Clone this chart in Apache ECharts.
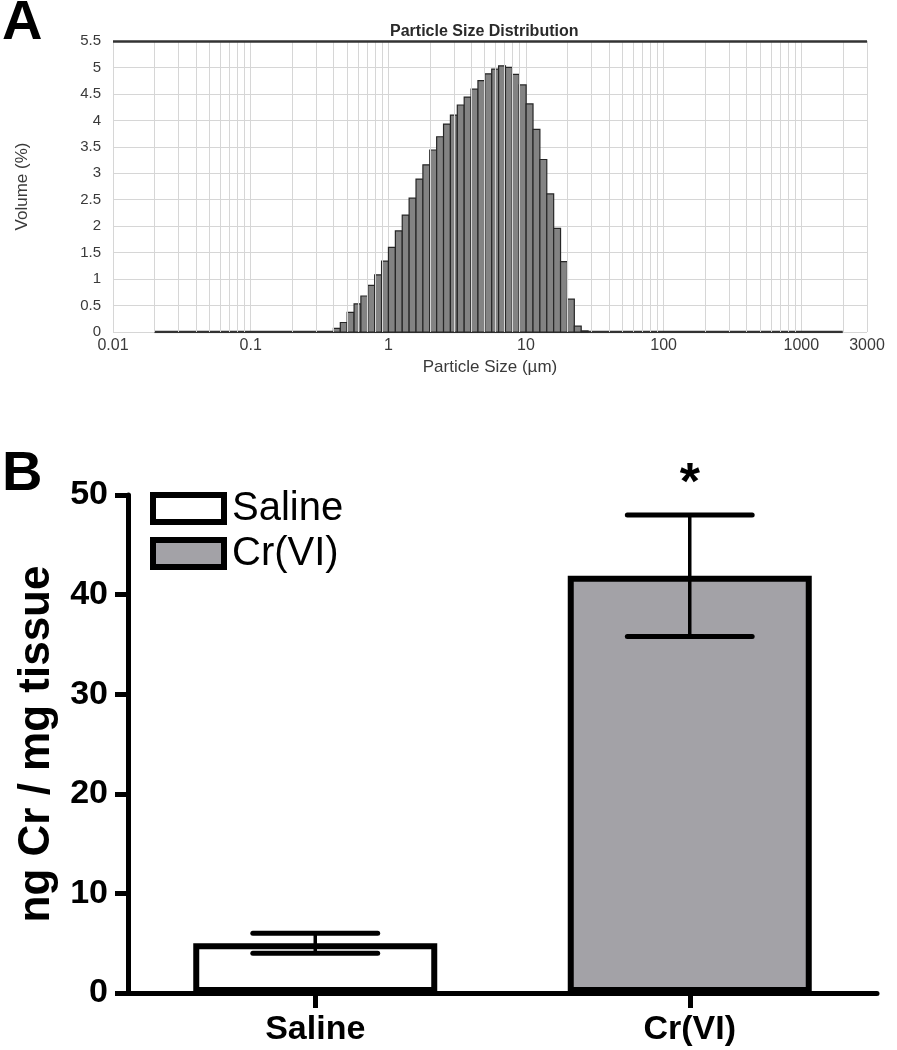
<!DOCTYPE html>
<html><head><meta charset="utf-8">
<script src="https://cdn.jsdelivr.net/npm/echarts@6/dist/echarts.min.js"></script>
<style>html,body{margin:0;padding:0;background:#fff}#c{width:897px;height:1050px}</style>
</head><body><div id="c"></div>
<script>
// ---------- Panel A data: particle size distribution (Mastersizer size classes, µm) ----------
const sizeEdges = [0.399, 0.448, 0.502, 0.564, 0.632, 0.710, 0.796, 0.893, 1.002, 1.125,
  1.262, 1.416, 1.589, 1.783, 2.000, 2.244, 2.518, 2.825, 3.170, 3.557,
  3.991, 4.477, 5.024, 5.637, 6.325, 7.096, 7.962, 8.934, 10.024, 11.247,
  12.619, 14.159, 15.887, 17.825, 20.000, 22.440, 25.179, 28.251];
const volumePct = [0.07, 0.18, 0.37, 0.53, 0.68, 0.88, 1.08, 1.34, 1.60, 1.91,
  2.21, 2.53, 2.89, 3.16, 3.44, 3.69, 3.93, 4.10, 4.29, 4.44,
  4.59, 4.75, 4.88, 4.97, 5.03, 5.00, 4.87, 4.67, 4.31, 3.83,
  3.26, 2.61, 1.96, 1.33, 0.62, 0.11, 0.02];
const measuredRange = [0.02, 2000];
const sizeAxisRange = [0.01, 3000];
const volumeAxisMax = 5.5;

// ---------- Panel B data ----------
const groups = ['Saline', 'Cr(VI)'];
const means = [5.0, 41.9];
const sems = [1.0, 6.1];
const significance = ['', '*'];

const FONT = '"Liberation Sans", Arial, Helvetica, sans-serif';
const GRID_GREY = '#d6d6d6';

const histData = volumePct.map((v, i) => [sizeEdges[i], sizeEdges[i + 1], v]);
const minorGrid = [];
[0.01, 0.1, 1, 10, 100, 1000].forEach(d => {
  for (let m = 2; m <= 9; m++) {
    const v = parseFloat((d * m).toPrecision(3));
    if (v < sizeAxisRange[1]) minorGrid.push({ xAxis: v });
  }
});
const errData = groups.map((g, i) => [i, means[i] - sems[i], means[i] + sems[i]]);
const starData = groups.map((g, i) => [i, means[i] + sems[i], significance[i]]).filter(d => d[2]);

const chart = echarts.init(document.getElementById('c'));
chart.setOption({
  backgroundColor: '#fff',
  animation: false,
  title: [
    { text: 'A', left: 2, top: -4, padding: 0, textStyle: { fontFamily: FONT, fontSize: 56, fontWeight: 'bold', color: '#000' } },
    { text: 'B', left: 2, top: 447, padding: 0, textStyle: { fontFamily: FONT, fontSize: 56, fontWeight: 'bold', color: '#000' } },
    { text: 'Particle Size Distribution', left: 390, top: 24, padding: 0, textStyle: { fontFamily: FONT, fontSize: 16, fontWeight: 'bold', color: '#2a2a2a' } }
  ],
  legend: {
    data: groups, orient: 'vertical', left: 150, top: 486, itemWidth: 71, itemHeight: 27, itemGap: 0,
    icon: 'rect', padding: 0,
    itemStyle: { borderWidth: 6, borderColor: '#000' },
    textStyle: { fontFamily: FONT, fontSize: 40, color: '#000', lineHeight: 45, padding: [0, 0, 0, 3] }
  },
  grid: [
    { left: 113, top: 41, width: 754, height: 291 },
    { left: 128, top: 495, width: 749, height: 498 }
  ],
  xAxis: [
    {
      gridIndex: 0, type: 'log', logBase: 10, min: sizeAxisRange[0], max: sizeAxisRange[1],
      axisLine: { show: false }, axisTick: { show: false },
      axisLabel: { fontFamily: FONT, fontSize: 16, color: '#3a3a3a', margin: 6,
        formatter: v => String(parseFloat(Number(v).toPrecision(4))) },
      splitLine: { show: true, lineStyle: { color: GRID_GREY, width: 1 } },
      name: 'Particle Size (µm)', nameLocation: 'middle', nameGap: 27,
      nameTextStyle: { fontFamily: FONT, fontSize: 17, color: '#3a3a3a' }
    },
    {
      gridIndex: 1, type: 'category', data: groups,
      axisLine: { show: true, lineStyle: { color: '#000', width: 5 } },
      axisTick: { show: true, alignWithLabel: true, length: 15, lineStyle: { color: '#000', width: 5 } },
      axisLabel: { fontFamily: FONT, fontSize: 34, fontWeight: 'bold', color: '#000', margin: 20 }
    }
  ],
  yAxis: [
    {
      gridIndex: 0, type: 'value', min: 0, max: volumeAxisMax, interval: 0.5,
      axisLine: { show: false }, axisTick: { show: false },
      axisLabel: { fontFamily: FONT, fontSize: 15, color: '#3a3a3a', margin: 12 },
      splitLine: { show: true, lineStyle: { color: GRID_GREY, width: 1 } },
      name: 'Volume (%)', nameLocation: 'middle', nameGap: 82,
      nameTextStyle: { fontFamily: FONT, fontSize: 17, color: '#3a3a3a' }
    },
    {
      gridIndex: 1, type: 'value', min: 0, max: 50, interval: 10,
      axisLine: { show: true, lineStyle: { color: '#000', width: 5 } },
      axisTick: { show: true, length: 13, lineStyle: { color: '#000', width: 5 } },
      axisLabel: { fontFamily: FONT, fontSize: 34, fontWeight: 'bold', color: '#000', margin: 20 },
      splitLine: { show: false },
      name: 'ng Cr / mg tissue', nameLocation: 'middle', nameGap: 62,
      nameTextStyle: { fontFamily: FONT, fontSize: 44, fontWeight: 'bold', color: '#000' }
    }
  ],
  series: [
    {
      name: 'measured-range', type: 'line', xAxisIndex: 0, yAxisIndex: 0, z: 1,
      data: [[measuredRange[0], 0], [measuredRange[1], 0]], symbol: 'none',
      lineStyle: { color: '#333', width: 2.5 }, silent: true,
      markLine: {
        silent: true, symbol: ['none', 'none'], label: { show: false }, animation: false,
        lineStyle: { color: GRID_GREY, width: 1, type: 'solid' },
        data: minorGrid.concat([{ yAxis: volumeAxisMax, lineStyle: { color: '#333', width: 2.5, type: 'solid' } }])
      }
    },
    {
      name: 'volume', type: 'custom', xAxisIndex: 0, yAxisIndex: 0, z: 3,
      data: histData, encode: { x: [0, 1], y: 2 },
      renderItem: (params, api) => {
        const p0 = api.coord([api.value(0), api.value(2)]);
        const p1 = api.coord([api.value(1), 0]);
        return { type: 'rect', shape: { x: p0[0], y: p0[1], width: p1[0] - p0[0], height: p1[1] - p0[1] },
          style: { fill: '#838383', stroke: '#262626', lineWidth: 1.2 } };
      }
    },
    {
      name: 'Saline', type: 'bar', xAxisIndex: 1, yAxisIndex: 1, barWidth: 244, barGap: '-100%',
      data: [means[0], '-'],
      itemStyle: { color: '#ffffff', borderColor: '#000', borderWidth: 6 }
    },
    {
      name: 'Cr(VI)', type: 'bar', xAxisIndex: 1, yAxisIndex: 1, barWidth: 244, barGap: '-100%',
      data: ['-', means[1]],
      itemStyle: { color: '#a3a2a7', borderColor: '#000', borderWidth: 6 }
    },
    {
      name: 'sem', type: 'custom', xAxisIndex: 1, yAxisIndex: 1, z: 5,
      data: errData, encode: { x: 0, y: [1, 2] },
      renderItem: (params, api) => {
        const x = api.value(0);
        const pHi = api.coord([x, api.value(2)]);
        const pLo = api.coord([x, api.value(1)]);
        const half = api.size([1, 0])[0] / 6;
        const cap = { stroke: '#000', lineWidth: 5, lineCap: 'round' };
        return { type: 'group', children: [
          { type: 'line', shape: { x1: pHi[0], y1: pHi[1], x2: pLo[0], y2: pLo[1] }, style: { stroke: '#000', lineWidth: 3.5 } },
          { type: 'line', shape: { x1: pHi[0] - half, y1: pHi[1], x2: pHi[0] + half, y2: pHi[1] }, style: cap },
          { type: 'line', shape: { x1: pLo[0] - half, y1: pLo[1], x2: pLo[0] + half, y2: pLo[1] }, style: cap }
        ] };
      }
    },
    {
      name: 'sig', type: 'custom', xAxisIndex: 1, yAxisIndex: 1, z: 6, clip: false,
      data: starData, encode: { x: 0, y: 1 },
      renderItem: (params, api) => {
        const p = api.coord([api.value(0), api.value(1)]);
        return { type: 'text', x: p[0], y: p[1] - 56,
          style: { text: starData[params.dataIndex][2], fontFamily: FONT, fontSize: 52, fontWeight: 'bold', fill: '#000', align: 'center', verticalAlign: 'top' } };
      }
    }
  ]
});
</script>
</body></html>
